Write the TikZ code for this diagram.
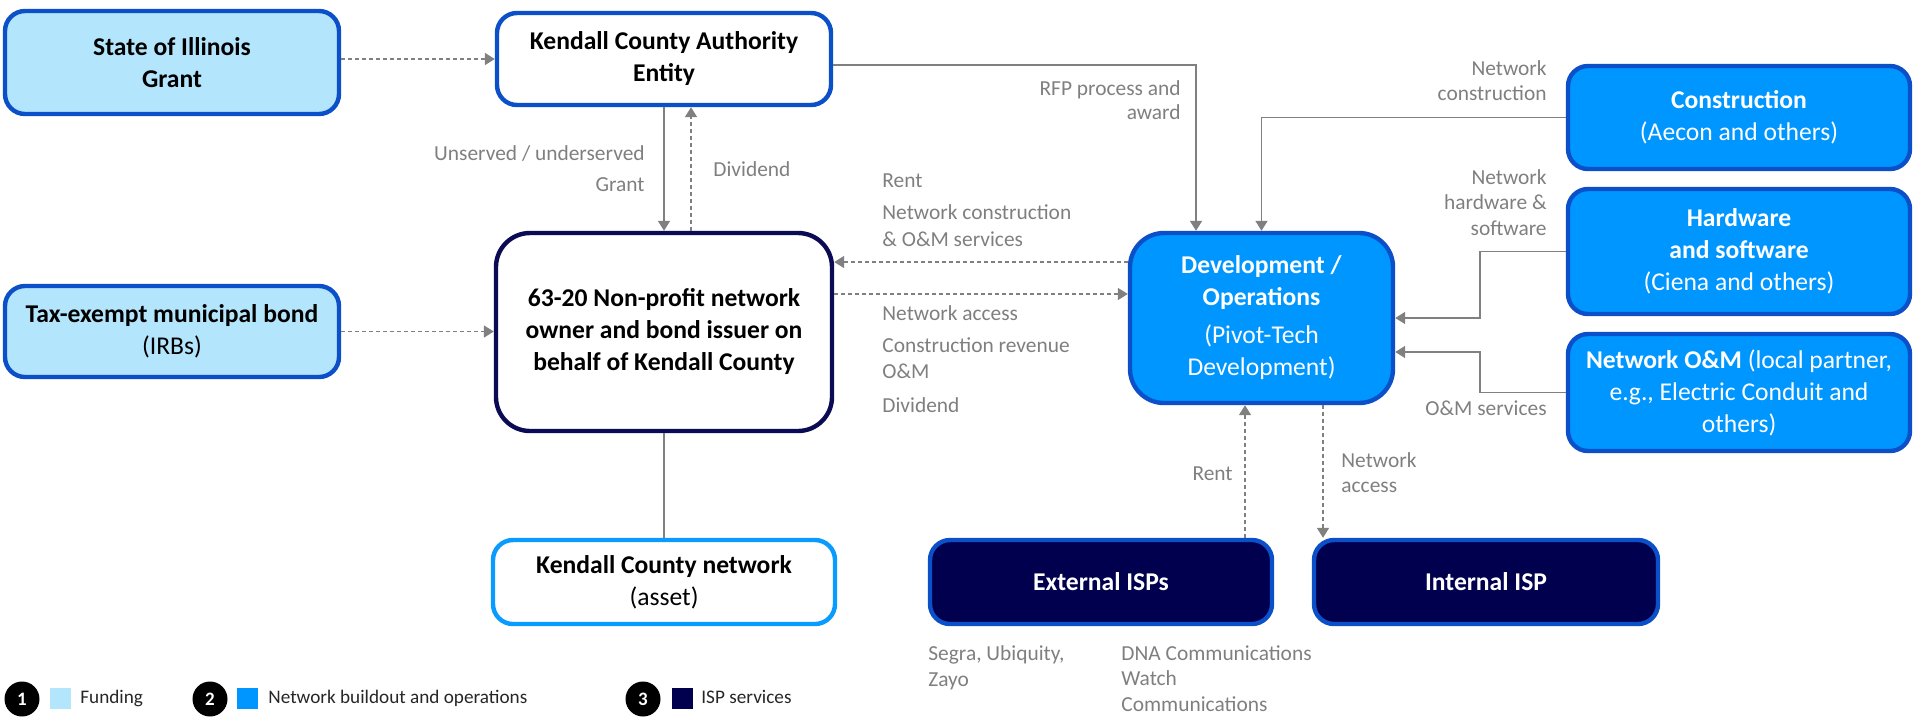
\documentclass[tikz,border=0pt]{standalone}
\usepackage{fontspec}
\setmainfont{Carlito}
\usetikzlibrary{arrows.meta}
\definecolor{lightfill}{HTML}{B3E5FC}
\definecolor{edgeblue}{HTML}{0B50C8}
\definecolor{midfill}{HTML}{0096FF}
\definecolor{navyfill}{HTML}{00004F}
\definecolor{navyedge}{HTML}{0A0A55}
\definecolor{kcnedge}{HTML}{0A9BFF}
\definecolor{conngray}{HTML}{808080}
\definecolor{lblgray}{HTML}{7F7F7F}
\definecolor{legtext}{HTML}{262626}
\begin{document}
\begin{tikzpicture}[x=0.5pt,y=-0.5pt,
 box/.style={draw, line width=2.2pt, rounded corners=10pt, align=center, inner sep=0pt, font=\fontsize{12.8}{16}\selectfont},
 fund/.style={box, fill=lightfill, draw=edgeblue},
 plainbox/.style={box, fill=white, draw=edgeblue},
 build/.style={box, fill=midfill, draw=edgeblue, text=white},
 isp/.style={box, fill=navyfill, draw=edgeblue, text=white},
 conn/.style={draw=conngray, line width=0.8pt},
 arr/.style={conn, -{Triangle[length=5pt,width=6pt]}},
 darr/.style={arr, dash pattern=on 2pt off 1.5pt},
 lblL/.style={anchor=mid west, inner sep=0pt, text=lblgray, font=\fontsize{10.7}{12}\selectfont},
 lblR/.style={lblL, anchor=mid east},
 legnum/.style={circle, fill=black, minimum size=17.5pt, inner sep=0pt, text=white, font=\bfseries\fontsize{9.5}{10}\selectfont},
 legsq/.style={minimum size=10.5pt, inner sep=0pt},
 legtxt/.style={anchor=mid west, inner sep=0pt, text=legtext, font=\fontsize{9.6}{11}\selectfont},
]
\useasboundingbox (0,0) rectangle (1915,719);

% boxes
\node[fund, minimum width=167pt, minimum height=51.5pt] (state) at (172,62.5) {\textbf{State of Illinois}\\\textbf{Grant}};
\node[plainbox, minimum width=167pt, minimum height=46pt] (auth) at (664,59) {\textbf{Kendall County Authority}\\\textbf{Entity}};
\node[fund, minimum width=167pt, minimum height=45.5pt] (tax) at (172,331.5) {\textbf{Tax-exempt municipal bond}\\(IRBs)};
\node[box, fill=white, draw=navyedge, rounded corners=17pt, minimum width=168pt, minimum height=99pt] (np) at (664,332) {\textbf{63-20 Non-profit network}\\\textbf{owner and bond issuer on}\\\textbf{behalf of Kendall County}};
\node[box, fill=white, draw=kcnedge, minimum width=171pt, minimum height=42pt] (kcn) at (664,582) {\textbf{Kendall County network}\\(asset)};
\node[build, rounded corners=17pt, minimum width=131.5pt, minimum height=85pt] (dev) at (1261.5,318) {\textbf{Development /}\\\textbf{Operations}\\[3pt](Pivot-Tech\\Development)};
\node[build, minimum width=171pt, minimum height=51.5pt] (cons) at (1739,117.5) {\textbf{Construction}\\(Aecon and others)};
\node[build, minimum width=171pt, minimum height=62.5pt] (hw) at (1739,251.5) {\textbf{Hardware}\\\textbf{and software}\\(Ciena and others)};
\node[build, minimum width=171pt, minimum height=58.5pt] (om) at (1739,392.5) {\textbf{Network O\&M} (local partner,\\e.g., Electric Conduit and\\others)};
\node[isp, minimum width=171pt, minimum height=42pt] (ext) at (1101,582) {\textbf{External ISPs}};
\node[isp, minimum width=172pt, minimum height=42pt] (int) at (1486,582) {\textbf{Internal ISP}};

% helper coordinates
\coordinate (dv) at ([xshift=13.5pt]np.north);
\coordinate (d1) at ([yshift=28pt]dev.west);
\coordinate (d2) at ([yshift=12pt]dev.west);
\coordinate (d3) at ([yshift=-17pt]dev.east);
\coordinate (rt) at ([xshift=-8.25pt]dev.south);
\coordinate (na) at ([xshift=30.75pt]dev.south);

% connectors
\draw[darr] (auth.west -| state.east) -- (auth.west);
\draw[darr] (tax.east) -- (tax.east -| np.west);
\draw[arr] (auth.south) -- (np.north);
\draw[darr] (dv) -- (dv |- auth.south);
\draw[conn] (np.south) -- (kcn.north);
\draw[arr] ([yshift=-3pt]auth.east) -| ([xshift=-32.75pt]dev.north);
\draw[arr] (cons.west) -| (dev.north);
\draw[arr] (hw.west) -- ++(-86,0) |- (dev.east);
\draw[arr] (om.west) -- ++(-86,0) |- (d3);
\draw[darr] (d1) -- (d1 -| np.east);
\draw[darr] (d2 -| np.east) -- (d2);
\draw[darr] (rt |- ext.north) -- (rt);
\draw[darr] (na) -- (na |- int.north);

% labels
\node[lblR] (t1) at (645,156) {Unserved / underserved};
\node[lblR] (t2) at (645,187) {Grant};
\node[lblL] (t3) at (713,172) {Dividend};
\node[lblR] (t4) at (1181,91) {RFP process and};
\node[lblR] (t5) at (1181,115) {award};
\node[lblR] (t6) at (1547,71) {Network};
\node[lblR] (t7) at (1547,96) {construction};
\node[lblR] (t8) at (1547,180) {Network};
\node[lblR] (t9) at (1547,205) {hardware \&};
\node[lblR] (t10) at (1547,231) {software};
\node[lblR] (t11) at (1547,411) {O\&M services};
\node[lblL] (t12) at (882,183) {Rent};
\node[lblL] (t13) at (882,215) {Network construction};
\node[lblL] (t14) at (882,242) {\& O\&M services};
\node[lblL] (t15) at (882,316) {Network access};
\node[lblL] (t16) at (882,348) {Construction revenue};
\node[lblL] (t17) at (882,374) {O\&M};
\node[lblL] (t18) at (882,408) {Dividend};
\node[lblR] (t19) at (1233,476) {Rent};
\node[lblL] (t20) at (1341,463) {Network};
\node[lblL] (t21) at (1341,488) {access};
\node[lblL] (t22) at (928,656) {Segra, Ubiquity,};
\node[lblL] (t23) at (928,682) {Zayo};
\node[lblL] (t24) at (1121,656) {DNA Communications};
\node[lblL] (t25) at (1121,681) {Watch};
\node[lblL] (t26) at (1121,707) {Communications};

% legend
\node[legnum] (c1) at (22,699) {1};
\node[legsq, fill=lightfill] (s1) at (60,698.5) {};
\node[legtxt] (g1) at (80,699) {Funding};
\node[legnum] (c2) at (210,699) {2};
\node[legsq, fill=midfill] (s2) at (247,698.5) {};
\node[legtxt] (g2) at (268,699) {Network buildout and operations};
\node[legnum] (c3) at (643,699) {3};
\node[legsq, fill=navyfill] (s3) at (682.5,698.5) {};
\node[legtxt] (g3) at (701,699) {ISP services};
\end{tikzpicture}
\end{document}
